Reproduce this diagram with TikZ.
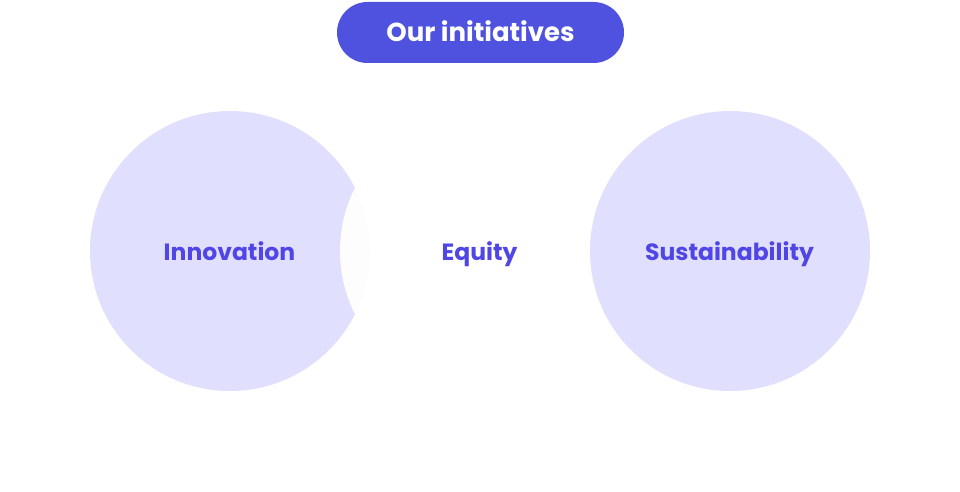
\documentclass[tikz,border=0pt]{standalone}
\usepackage{fontspec}
\setmainfont{Poppins}
\usepackage{xcolor}
\usetikzlibrary{positioning}
\definecolor{inkindigo}{HTML}{4F52DF}
\definecolor{inklabel}{HTML}{4F46E5}
\definecolor{inklilac}{HTML}{E0DFFD}

\begin{document}
\begin{tikzpicture}[x=1pt, y=1pt,
    pill/.style={fill=inkindigo, minimum width=287pt, minimum height=61pt,
      rounded corners=30.5pt, inner sep=0pt},
    pilltext/.style={text=white, font=\fontsize{26}{30}\selectfont\bfseries, anchor=base},
    bubble/.style={circle, fill=inklilac, minimum size=280pt, inner sep=0pt},
    midbubble/.style={circle, fill=white, fill opacity=0.97, minimum size=280pt, inner sep=0pt},
    lab/.style={text=inklabel, font=\fontsize{23.5}{28}\selectfont\bfseries, anchor=base}
  ]
    \path[use as bounding box] (0,0) rectangle (960,-492);
    \node[pill] (title) at (480.5,-32.5) {};
    \node[pilltext] (titletext) at (480.5,-42) {Our initiatives};
    \node[bubble] (innov) at (230,-251) {};
    \node[midbubble] (equity) at (480,-251) {};
    \node[bubble] (sustain) at (730,-251) {};
    \node[lab] (innovtext) at (229.5,-260) {Innovation};
    \node[lab] (equitytext) at (479.5,-260) {Equity};
    \node[lab] (sustaintext) at (729.5,-260) {Sustainability};
  \end{tikzpicture}
\end{document}
